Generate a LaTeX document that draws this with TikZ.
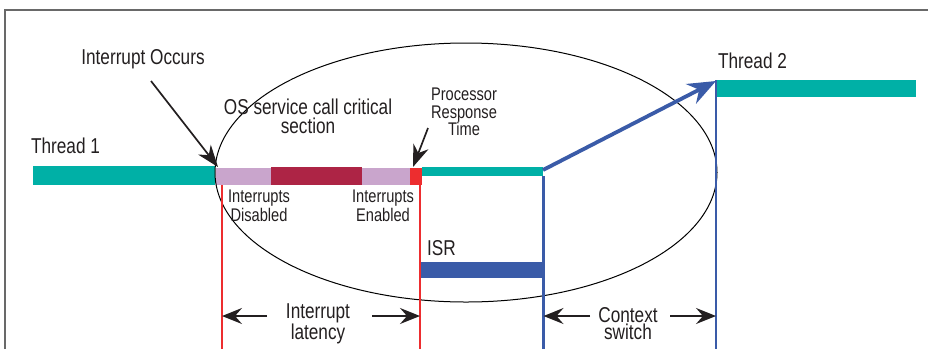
\documentclass[tikz,border=0pt]{standalone}
\usepackage{fontspec}
\setmainfont{Liberation Sans}[FakeStretch=0.8]
\usetikzlibrary{arrows.meta}
\definecolor{tealbar}{RGB}{0,176,166}
\definecolor{lilac}{RGB}{201,165,204}
\definecolor{wine}{RGB}{173,36,69}
\definecolor{redc}{RGB}{237,45,47}
\definecolor{bluec}{RGB}{58,91,168}
\definecolor{txt}{RGB}{35,31,32}
\definecolor{framec}{RGB}{105,105,105}
\begin{document}
\begin{tikzpicture}[x=1pt,y=-1pt,
  bar/.style={inner sep=0pt, outer sep=0pt, anchor=north west, draw=none},
  big/.style={font=\fontsize{21.5}{17.5}\selectfont, text=txt, align=center, inner sep=0pt},
  mid/.style={font=\fontsize{21.5}{19}\selectfont, text=txt, align=center, inner sep=0pt},
  small/.style={font=\fontsize{18.3}{19}\selectfont, text=txt, align=center, inner sep=0pt},
  tiny/.style={font=\fontsize{18.3}{17.5}\selectfont, text=txt, align=center, inner sep=0pt},
  pointer/.style={draw=txt, line width=1.7pt, -{Stealth[length=22pt,width=16pt,inset=7pt]}},
  dimarrow/.style={draw=txt, line width=1.5pt, -{Stealth[length=20pt,width=16pt,inset=7pt]}},
  redline/.style={draw=redc, line width=2.2pt},
  blueline/.style={draw=bluec, line width=2.2pt}]
\useasboundingbox (0,0) rectangle (928,349);
% frame
\draw[framec, line width=1.5pt] (5,349) -- (5,10) -- (928,10);
% bars
\node[bar, fill=tealbar, minimum width=182pt, minimum height=19pt] (t1) at (33,166) {};
\node[bar, fill=lilac, minimum width=55pt, minimum height=17pt] (dis) at (216,168) {};
\node[bar, fill=wine, minimum width=91pt, minimum height=18.5pt] (crit) at (271,166.5) {};
\node[bar, fill=lilac, minimum width=48pt, minimum height=17pt] (ena) at (362,168) {};
\node[bar, fill=redc, minimum width=12pt, minimum height=17pt] (resp) at (410,168) {};
\node[bar, fill=tealbar, minimum width=121pt, minimum height=9pt] (t1b) at (422,167) {};
\node[bar, fill=bluec, minimum width=123pt, minimum height=16pt] (isr) at (420,262) {};
\node[bar, fill=tealbar, minimum width=200pt, minimum height=17pt] (t2) at (716,80) {};
% ellipse
\draw[black, line width=1pt] (466,172.5) ellipse [x radius=251pt, y radius=129.5pt];
% coordinates
\coordinate (latLtop) at (222,185);
\coordinate (latLbot) at (222,349);
\coordinate (latRtop) at (420,176);
\coordinate (latRbot) at (420,349);
\coordinate (ctxLtop) at (543.5,176);
\coordinate (ctxLbot) at (543.5,349);
\coordinate (ctxRtop) at (716,80);
\coordinate (ctxRbot) at (716,349);
% vertical lines
\draw[redline] (latLtop) -- (latLbot);
\draw[redline] (latRtop) -- (latRbot);
\draw[blueline] (ctxLtop) -- (ctxLbot);
\draw[blueline] (ctxRtop) -- (ctxRbot);
% switch arrow
\coordinate (swstart) at (543,170);
\coordinate (swend) at (716,81);
\draw[bluec, line width=3.8pt, -{Stealth[length=28pt,width=22pt,inset=9pt]}] (swstart) -- (swend);
% labels
\node[mid, anchor=base] (lt1) at (65.5,153) {Thread 1};
\node[mid, anchor=base] (lt2) at (752.5,68) {Thread 2};
\node[mid, anchor=base] (lio) at (143,64) {Interrupt Occurs};
\node[mid] (los) at (308,116.5) {OS service call critical\\section};
\node[tiny] (lpr) at (464,112) {Processor\\Response\\Time};
\node[small] (ldis) at (259,206) {Interrupts\\Disabled};
\node[small] (lena) at (383,206) {Interrupts\\Enabled};
\node[mid, anchor=base] (lisr) at (441.5,255) {ISR};
\node[big] (llat) at (318,323.5) {Interrupt\\latency};
\node[big] (lctx) at (628,323.5) {Context\\switch};
% pointers
\coordinate (iotail) at (151,81);
\coordinate (iotip) at (218,167);
\draw[pointer] (iotail) -- (iotip);
\coordinate (prtail) at (428,128);
\coordinate (prtip) at (413,167);
\draw[pointer] (prtail) -- (prtip);
% dimension arrows
\coordinate (la1) at (267,316);
\coordinate (la2) at (372,316);
\coordinate (ca1) at (590,316);
\coordinate (ca2) at (670,316);
\draw[dimarrow] (la1) -- (la1 -| latLtop);
\draw[dimarrow] (la2) -- (la2 -| latRtop);
\draw[dimarrow] (ca1) -- (ca1 -| ctxLtop);
\draw[dimarrow] (ca2) -- (ca2 -| ctxRtop);
\end{tikzpicture}
\end{document}
